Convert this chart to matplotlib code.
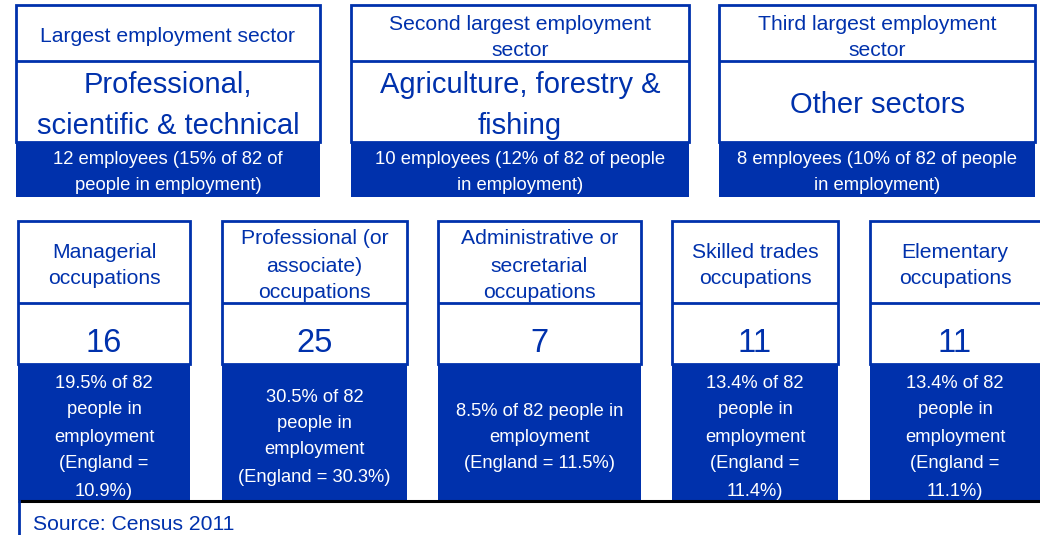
import matplotlib
matplotlib.use("Agg")
import matplotlib.pyplot as plt
from matplotlib.patches import Rectangle

plt.rcParams['font.family'] = ['Liberation Sans', 'DejaVu Sans']

BLUE = '#0031AC'

# ---- data ----
sector_ranks = [["Largest employment sector"],
                ["Second largest employment", "sector"],
                ["Third largest employment", "sector"]]
sector_names = [["Professional,", "scientific & technical"],
                ["Agriculture, forestry &", "fishing"],
                ["Other sectors"]]
sector_employees = [12, 10, 8]
sector_pct = [15, 12, 10]
total_employed = 82
sector_detail = [["12 employees (15% of 82 of", "people in employment)"],
                 ["10 employees (12% of 82 of people", "in employment)"],
                 ["8 employees (10% of 82 of people", "in employment)"]]

occ_names = [["Managerial", "occupations"],
             ["Professional (or", "associate)", "occupations"],
             ["Administrative or", "secretarial", "occupations"],
             ["Skilled trades", "occupations"],
             ["Elementary", "occupations"]]
occ_counts = [16, 25, 7, 11, 11]
occ_pct = [19.5, 30.5, 8.5, 13.4, 13.4]
occ_england = [10.9, 30.3, 11.5, 11.4, 11.1]
occ_detail = [["19.5% of 82", "people in", "employment", "(England =", "10.9%)"],
              ["30.5% of 82", "people in", "employment", "(England = 30.3%)"],
              ["8.5% of 82 people in", "employment", "(England = 11.5%)"],
              ["13.4% of 82", "people in", "employment", "(England =", "11.4%)"],
              ["13.4% of 82", "people in", "employment", "(England =", "11.1%)"]]
source_text = "Source: Census 2011"

# ---- layout (pixel space) ----
W, H = 1040, 535
fig = plt.figure(figsize=(W / 100, H / 100), dpi=100)
ax = fig.add_axes([0, 0, 1, 1])
ax.set_xlim(0, W)
ax.set_ylim(H, 0)
ax.axis('off')

top_x = [(16, 320), (351, 689), (719, 1035)]
top_y0, top_hdr, top_band, top_y1 = 5, 61, 142, 197
bot_x = [(18, 190), (222, 407), (438, 641), (672, 838), (870, 1045)]
bot_y0, bot_hdr, bot_band, bot_y1 = 221, 303, 364, 500

LW = 2.0
DY = 2  # vertical text offset


def box(x0, x1, y0, yh, yb, y1):
    ax.add_patch(Rectangle((x0, yb), x1 - x0, y1 - yb, facecolor=BLUE,
                           edgecolor='none', zorder=1))
    ax.add_patch(Rectangle((x0, y0), x1 - x0, yb - y0, facecolor='white',
                           edgecolor=BLUE, lw=LW, zorder=2))
    ax.plot([x0, x1], [yh, yh], color=BLUE, lw=LW, zorder=3,
            solid_capstyle='butt')


def lines(xc, ys, texts, size, color):
    for y, t in zip(ys, texts):
        ax.text(xc, y + DY, t, ha='center', va='center', fontsize=size,
                color=color, zorder=4)


# top sector boxes
for i, (x0, x1) in enumerate(top_x):
    box(x0, x1, top_y0, top_hdr, top_band, top_y1)
    xc = (x0 + x1) / 2
    r = sector_ranks[i]
    lines(xc, [35] if len(r) == 1 else [22, 48], r, 15.2, BLUE)
    n = sector_names[i]
    lines(xc, [103] if len(n) == 1 else [83, 124], n, 21.0, BLUE)
    lines(xc, [158, 184], sector_detail[i], 13.3, 'white')

# bottom occupation boxes
for i, (x0, x1) in enumerate(bot_x):
    box(x0, x1, bot_y0, bot_hdr, bot_band, bot_y1)
    xc = (x0 + x1) / 2
    if i == 4:
        xc = 955
    nm = occ_names[i]
    lines(xc, [250, 277] if len(nm) == 2 else [237, 264, 291], nm, 15.2, BLUE)
    lines(xc, [342], [str(occ_counts[i])], 23.5, BLUE)
    d = occ_detail[i]
    ys = {5: [381, 408, 436, 462, 489], 4: [395, 421, 448, 475],
          3: [409, 436, 462]}[len(d)]
    lines(xc, ys, d, 13.2, 'white')

# bottom rule and source
ax.plot([18, W], [bot_y1 + 1, bot_y1 + 1], color='black', lw=2.2, zorder=5,
        solid_capstyle='butt')
ax.plot([19, 19], [bot_y1 + 1, H], color=BLUE, lw=LW, zorder=5)
ax.text(33, 523 + DY, source_text, ha='left', va='center', fontsize=15.2,
        color=BLUE)

fig.savefig('out.png', dpi=100)
